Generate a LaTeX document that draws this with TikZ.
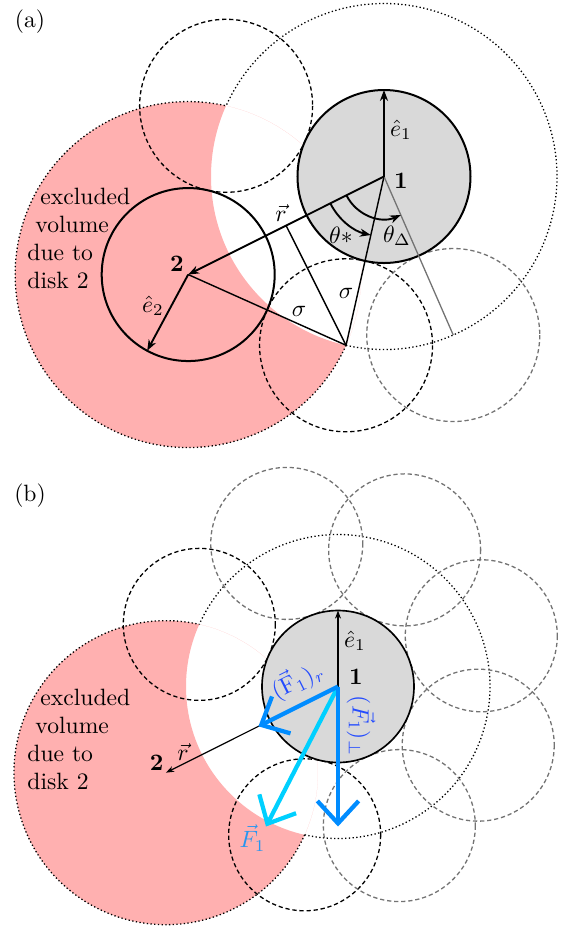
\documentclass[tikz,border=0pt]{standalone}
\usetikzlibrary{arrows.meta,calc}
\definecolor{pinkx}{RGB}{255,176,176}
\definecolor{diskgray}{RGB}{217,217,217}
\definecolor{ringgray}{RGB}{115,115,115}
\definecolor{farrow}{RGB}{0,140,255}
\definecolor{fcyan}{RGB}{0,208,255}
\definecolor{flabel}{RGB}{35,75,255}
\definecolor{ftotlabel}{RGB}{40,150,240}
\begin{document}
\begin{tikzpicture}[x=0.4237pt,y=-0.4237pt,
  dotc/.style={line width=0.55pt, dash pattern=on 0.55pt off 1.02pt},
  dashc/.style={line width=0.55pt, dash pattern=on 1.8pt off 1.2pt},
  graydash/.style={dashc, ringgray},
  diskline/.style={line width=0.85pt},
  thinline/.style={line width=0.6pt},
  vecA/.style={line width=0.8pt, -{Stealth[length=4.6pt,width=3.4pt,inset=1.4pt]}},
  vecB/.style={line width=0.5pt, -{Stealth[length=3.4pt,width=2.5pt,inset=1pt]}},
  force/.style={line width=1.8pt, -{Straight Barb[length=9.5pt,width=17.5pt]}},
  excl/.style={anchor=north west, align=left, inner sep=0pt, font=\fontsize{10}{11.8}\selectfont}
]
\useasboundingbox (0,0) rectangle (562,926);

% ================= panel (a) =================
\coordinate (A1) at (384,176.5);
\coordinate (A2) at ($(A1)+(153.4:219)$);
\coordinate (AP) at ($(A1)+(102.67:173)$);
\coordinate (AQ) at ($(A1)+(204.13:173)$);
\coordinate (AM) at ($(A1)!0.5!(A2)$);
\coordinate (AG) at ($(A1)+(66.4:173)$);
\coordinate (Ae1) at ($(A1)+(-90:86.5)$);
\coordinate (Ae2) at ($(A2)+(118.3:86.5)$);

\begin{scope}
  \clip (A2) circle (173);
  \fill[pinkx, even odd rule] (A2) circle (173) (A1) circle (173);
\end{scope}
\draw[dotc] (AP) arc[start angle=102.67, end angle=-155.87, radius=173];
\draw[dotc] (AP) arc[start angle=24.13, end angle=282.67, radius=173];

\draw[dashc] (AQ) circle (86.5);
\draw[dashc] (AP) circle (86.5);
\draw[graydash] (AG) circle (86.5);

\draw[diskline, fill=diskgray] (A1) circle (86.5);
\draw[diskline] (A2) circle (86.5);

\draw[thinline] (A2) -- (AP) -- (A1);
\draw[thinline] (AM) -- (AP);
\draw[ringgray, line width=0.55pt] (A1) -- (AG);

\draw[vecA] (A1) -- (A2);
\draw[vecA] (A1) -- (Ae1);
\draw[vecA] (A2) -- (Ae2);
\draw[vecA] ($(A1)+(153.4:60)$) arc[start angle=153.4, end angle=102.67, radius=60];
\draw[vecA] ($(A1)+(153.4:42)$) arc[start angle=153.4, end angle=66.4, radius=42];

\node (la) at (30,21.5) {(a)};
\node (ae1) at (401,130) {$\hat{e}_1$};
\node (an1) at (401,181) {$\mathbf{1}$};
\node (an2) at (177,264) {$\mathbf{2}$};
\node (ae2) at (153,306) {$\hat{e}_2$};
\node (ar) at (281,213) {$\vec{r}$};
\node (ats) at (341,235) {$\theta*$};
\node (atd) at (397,236) {$\theta_\Delta$};
\node (as1) at (299,311) {$\sigma$};
\node (as2) at (346,293) {$\sigma$};
\node[excl] (aex) at (27,187.6) {\hspace{5.5pt}excluded\\\hspace{3.4pt}volume\\due to\\disk 2};

% ================= panel (b) =================
\coordinate (B1) at (338,686.5);
\coordinate (B2) at ($(B1)+(153.4:192.4)$);
\coordinate (BP) at ($(B1)+(102.67:152)$);
\coordinate (BQ) at ($(B1)+(204.13:152)$);
\coordinate (Be1) at ($(B1)+(-90:76)$);
\coordinate (BFr) at ($(B1)+(153.4:89)$);
\coordinate (BFp) at (338,826.5);
\coordinate (BF) at (266,826.5);

\begin{scope}
  \clip (B2) circle (152);
  \fill[pinkx, even odd rule] (B2) circle (152) (B1) circle (152);
\end{scope}
\draw[dotc] (BP) arc[start angle=102.67, end angle=-155.87, radius=152];
\draw[dotc] (BP) arc[start angle=24.13, end angle=282.67, radius=152];

\draw[dashc] (BQ) circle (76);
\draw[dashc] (BP) circle (76);
\foreach \ang in {66.2,22.7,-19.5,-64,-109.7}
  \draw[graydash] ($(B1)+(\ang:152)$) circle (76);

\draw[line width=0.7pt, fill=diskgray] (B1) circle (76);

\draw[vecB] (B1) -- (B2);
\draw[vecB] (B1) -- (Be1);
\draw[force, fcyan] (B1) -- (BF);
\draw[force, farrow] (B1) -- (BFr);
\draw[force, farrow] (B1) -- (BFp);

\node (lb) at (30,496) {(b)};
\node (be1) at (355,641) {$\hat{e}_1$};
\node (bn1) at (356,677) {$\mathbf{1}$};
\node (bn2) at (156.7,763) {$\mathbf{2}$};
\node (br) at (183,752) {$\vec{r}$};
\node[rotate=26.6, text=flabel, inner sep=1pt] (bfr) at (297,680) {$(\vec{\mathrm{F}}_1)_r$};
\node[rotate=-90, text=flabel, inner sep=1pt] (bfp) at (361,726) {$(\vec{F}_1)_\perp$};
\node[text=ftotlabel, inner sep=1pt] (bf) at (252.5,838) {$\vec{F}_1$};
\node[excl] (bex) at (27,688.6) {\hspace{5.5pt}excluded\\\hspace{3.4pt}volume\\due to\\disk 2};
\end{tikzpicture}
\end{document}
